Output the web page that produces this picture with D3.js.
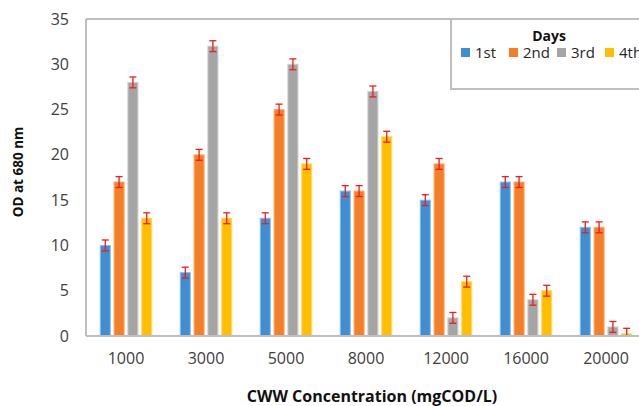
<!DOCTYPE html>
<html>
<head>
<meta charset="utf-8">
<script src="https://cdn.jsdelivr.net/npm/d3@7"></script>
<style>
  body { margin: 0; background: #fff; }
  svg { display: block; font-family: "Open Sans", "Liberation Sans", sans-serif; }
</style>
</head>
<body>
<svg id="chart" width="639" height="406"></svg>
<script>
const categories = ["1000", "3000", "5000", "8000", "12000", "16000", "20000"];
const seriesNames = ["1st", "2nd", "3rd", "4th"];
const day1 = [10, 7, 13, 16, 15, 17, 12];
const day2 = [17, 20, 25, 16, 19, 17, 12];
const day3 = [28, 32, 30, 27, 2, 4, 1];
const day4 = [13, 13, 19, 22, 6, 5, 0.25];
const errors = [0.6, 0.6, 0.6, 0.6];
const yTicks = [0, 5, 10, 15, 20, 25, 30, 35];
const colors = ["#3e8ed4", "#f57f27", "#a5a5a5", "#ffbf00"];
const strokes = ["#8fbde8", "#f9ab70", "#cfcfcf", "#ffd966"];

const seriesValues = [day1, day2, day3, day4];

const svg = d3.select("#chart");
const plotLeft = 86, plotTop = 19, plotBottom = 336;

const x0 = d3.scaleBand().domain(categories).range([plotLeft, plotLeft + 80 * categories.length]).paddingInner(0).paddingOuter(0);
const x1 = d3.scaleBand().domain(seriesNames).range([11, 69]).padding(0.2);
const y = d3.scaleLinear().domain([0, 35]).range([plotBottom, plotTop]);

// frame lines
svg.append("line").attr("x1", plotLeft).attr("x2", 639).attr("y1", plotTop).attr("y2", plotTop)
  .attr("stroke", "#bfbfbf").attr("stroke-width", 2);
svg.append("line").attr("x1", plotLeft).attr("x2", plotLeft).attr("y1", plotTop).attr("y2", plotBottom)
  .attr("stroke", "#bfbfbf").attr("stroke-width", 2);

// y axis labels
const yAxis = d3.axisLeft(y).tickValues(yTicks).tickSize(0).tickPadding(17);
const gy = svg.append("g").attr("transform", `translate(${plotLeft},0)`).call(yAxis);
gy.select(".domain").remove();
gy.selectAll("text").attr("font-size", 16).attr("fill", "#404040")
  .attr("font-family", "'Open Sans', sans-serif");

// bars
const groups = svg.append("g").selectAll("g").data(categories).join("g")
  .attr("transform", d => `translate(${x0(d)},0)`);

seriesNames.forEach((s, si) => {
  groups.append("rect")
    .attr("x", (d) => x1(s) + 0.5)
    .attr("y", (d, i) => y(seriesValues[si][i]))
    .attr("width", x1.bandwidth() - 1)
    .attr("height", (d, i) => plotBottom - y(seriesValues[si][i]))
    .attr("fill", colors[si])
    .attr("stroke", strokes[si])
    .attr("stroke-width", 1);
});

// error bars
seriesNames.forEach((s, si) => {
  const cx = x1(s) + x1.bandwidth() / 2;
  const eb = groups.append("g").attr("stroke", "#ee1c1c").attr("stroke-width", 1.3);
  eb.append("line").attr("x1", cx).attr("x2", cx)
    .attr("y1", (d, i) => y(seriesValues[si][i] + errors[si]))
    .attr("y2", (d, i) => y(Math.max(0, seriesValues[si][i] - errors[si])));
  eb.append("line").attr("x1", cx - 3.5).attr("x2", cx + 3.5)
    .attr("y1", (d, i) => y(seriesValues[si][i] + errors[si]))
    .attr("y2", (d, i) => y(seriesValues[si][i] + errors[si]));
  eb.append("line").attr("x1", cx - 3.5).attr("x2", cx + 3.5)
    .attr("y1", (d, i) => y(Math.max(0, seriesValues[si][i] - errors[si])))
    .attr("y2", (d, i) => y(Math.max(0, seriesValues[si][i] - errors[si])));
});

// x axis
const xAxis = d3.axisBottom(x0).tickSize(0).tickPadding(17);
const gx = svg.append("g").attr("transform", `translate(0,${plotBottom})`).call(xAxis);
gx.select(".domain").attr("stroke", "#bfbfbf").attr("stroke-width", 2)
  .attr("d", `M${plotLeft},0H639`);
gx.selectAll("text").attr("font-size", 16).attr("fill", "#404040")
  .attr("font-family", "'Open Sans', sans-serif");

// axis titles
svg.append("text").attr("x", 372).attr("y", 402).attr("text-anchor", "middle")
  .attr("font-size", 16).attr("font-weight", "bold").attr("fill", "#111")
  .text("CWW Concentration (mgCOD/L)");
svg.append("text").attr("transform", "translate(23,172) rotate(-90)").attr("text-anchor", "middle")
  .attr("font-size", 13.5).attr("font-weight", "bold").attr("fill", "#111")
  .text("OD at 680 nm");

// legend
const lg = svg.append("g");
lg.append("rect").attr("x", 451).attr("y", 19).attr("width", 200).attr("height", 70)
  .attr("fill", "#fff").attr("stroke", "#bfbfbf").attr("stroke-width", 2);
lg.append("text").attr("x", 549).attr("y", 41).attr("text-anchor", "middle")
  .attr("font-size", 14).attr("font-weight", "bold").attr("fill", "#111").text("Days");
const legendX = d3.scalePoint().domain(seriesNames).range([461, 605]);
seriesNames.forEach((s, si) => {
  lg.append("rect").attr("x", legendX(s)).attr("y", 48).attr("width", 9).attr("height", 9)
    .attr("fill", colors[si]);
  lg.append("text").attr("x", legendX(s) + 14).attr("y", 58)
    .attr("font-size", 15).attr("fill", "#262626").text(s);
});
</script>
</body>
</html>
